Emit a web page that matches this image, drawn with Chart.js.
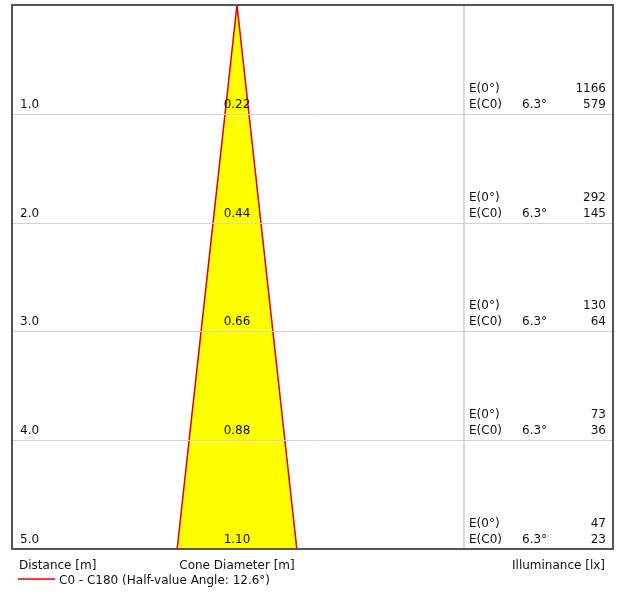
<!DOCTYPE html>
<html>
<head>
<meta charset="utf-8">
<script src="https://cdn.jsdelivr.net/npm/chart.js@4/dist/chart.umd.min.js"></script>
<style>
  html, body { margin: 0; padding: 0; background: #fff; }
  canvas { display: block; }
</style>
</head>
<body>
<canvas id="cone" width="617" height="598"></canvas>
<script>
// values
const distances = [1.0, 2.0, 3.0, 4.0, 5.0];
const coneDiameters = [0.22, 0.44, 0.66, 0.88, 1.10];
const illuminanceCentre = [1166, 292, 130, 73, 47];
const illuminanceC0 = [579, 145, 64, 36, 23];
const halfAngle = 6.3;
const halfValueAngle = 12.6;

const FONT = "12px 'DejaVu Sans', sans-serif";
const GRID = "#d4d4d4";
const RED = "#e00000";

// V-shaped outline of the cone: left edge up to the apex, then right edge down
const maxDist = distances[distances.length - 1];
const leftEdge = distances.map((d, i) => ({ x: -coneDiameters[i] / 2, y: d })).reverse();
const rightEdge = distances.map((d, i) => ({ x: coneDiameters[i] / 2, y: d }));
const coneOutline = leftEdge.concat([{ x: 0, y: 0 }], rightEdge);

const frame = {
  id: "frame",
  beforeDatasetsDraw(chart) {
    const { ctx, chartArea: a } = chart;
    ctx.save();
    // divider between cone panel and illuminance panel
    ctx.strokeStyle = "#d9d9d9";
    ctx.lineWidth = 2;
    ctx.beginPath();
    ctx.moveTo(464, a.top);
    ctx.lineTo(464, a.bottom);
    ctx.stroke();
    ctx.restore();
  },
  afterDatasetsDraw(chart) {
    const { ctx, chartArea: a, scales } = chart;
    const y = scales.y, x = scales.x;
    ctx.save();
    ctx.strokeStyle = GRID;
    ctx.lineWidth = 1;
    distances.slice(0, -1).forEach((d) => {
      const py = Math.round(y.getPixelForValue(d)) + 0.5;
      ctx.beginPath();
      ctx.moveTo(a.left, py);
      ctx.lineTo(a.right, py);
      ctx.stroke();
    });

    // outer frame
    ctx.strokeStyle = "#555";
    ctx.lineWidth = 2;
    ctx.strokeRect(a.left, a.top, a.right - a.left, a.bottom - a.top);

    ctx.fillStyle = "#111";
    ctx.font = FONT;
    ctx.textBaseline = "alphabetic";
    const cx = x.getPixelForValue(0);
    distances.forEach((d, i) => {
      const py = y.getPixelForValue(d);
      ctx.textAlign = "left";
      ctx.fillText(d.toFixed(1), 20, py - 6);
      ctx.textAlign = "center";
      ctx.fillText(coneDiameters[i].toFixed(2), cx, py - 6);
      ctx.textAlign = "left";
      ctx.fillText("E(0°)", 469, py - 22);
      ctx.fillText("E(C0)", 469, py - 6);
      ctx.fillText(halfAngle.toFixed(1) + "°", 522, py - 6);
      ctx.textAlign = "right";
      ctx.fillText(String(illuminanceCentre[i]), 606, py - 22);
      ctx.fillText(String(illuminanceC0[i]), 606, py - 6);
    });

    // axis captions
    ctx.textAlign = "left";
    ctx.fillText("Distance [m]", 19, 569);
    ctx.textAlign = "center";
    ctx.fillText("Cone Diameter [m]", cx, 569);
    ctx.textAlign = "right";
    ctx.fillText("Illuminance [lx]", 605, 569);

    // legend
    ctx.strokeStyle = RED;
    ctx.lineWidth = 1.5;
    ctx.beginPath();
    ctx.moveTo(18, 579);
    ctx.lineTo(55, 579);
    ctx.stroke();
    ctx.textAlign = "left";
    ctx.fillText("C0 - C180 (Half-value Angle: " + halfValueAngle.toFixed(1) + "°)", 59, 584);
    ctx.restore();
  },
};

new Chart(document.getElementById("cone"), {
  type: "line",
  data: {
    datasets: [
      {
        data: coneOutline,
        borderColor: RED,
        borderWidth: 1.5,
        backgroundColor: "#ffff00",
        pointRadius: 0,
        fill: { value: maxDist },
        tension: 0,
      },
    ],
  },
  options: {
    responsive: false,
    animation: false,
    devicePixelRatio: 1,
    layout: { padding: { left: 12, top: 5, right: 4, bottom: 49 } },
    plugins: { legend: { display: false }, tooltip: { enabled: false } },
    scales: {
      x: { type: "linear", display: false, min: -2.068, max: 3.456 },
      y: { type: "linear", display: false, reverse: true, min: 0, max: 5 },
    },
  },
  plugins: [frame],
});
</script>
</body>
</html>
